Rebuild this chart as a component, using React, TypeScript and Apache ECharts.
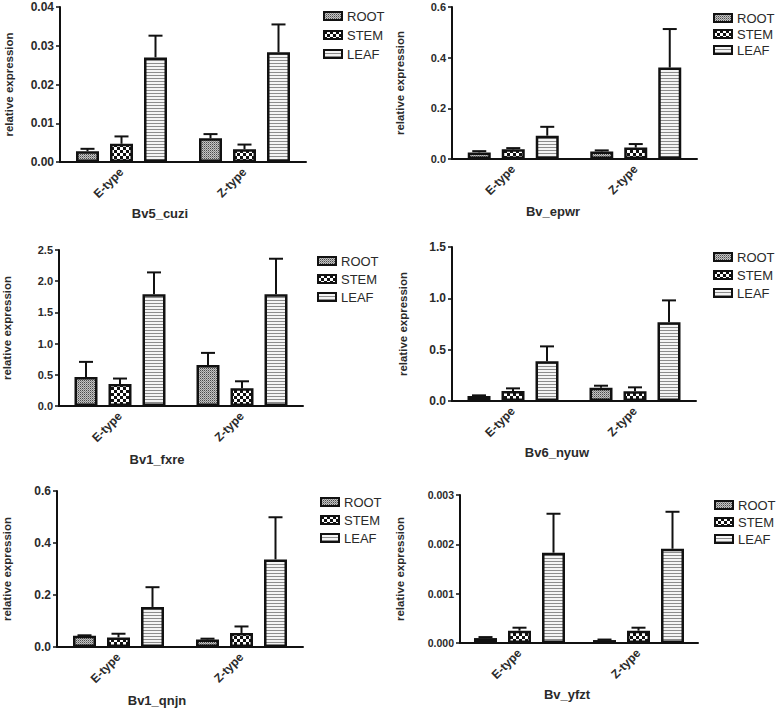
import React, { useEffect, useRef } from "react";
import * as echarts from "echarts";

const categories = ["E-type", "Z-type"];
const tissues = ["ROOT", "STEM", "LEAF"];

const panelTitles = ["Bv5_cuzi", "Bv_epwr", "Bv1_fxre", "Bv6_nyuw", "Bv1_qnjn", "Bv_yfzt"];
const yMax = [0.04, 0.6, 2.5, 1.5, 0.6, 0.003];
const yInterval = [0.01, 0.2, 0.5, 0.5, 0.2, 0.001];
const yDecimals = [2, 1, 1, 1, 1, 3];

// means[tissue][category]
const bv5CuziMean = [[0.0028, 0.0061], [0.0047, 0.0033], [0.027, 0.0283]];
const bv5CuziUpper = [[0.0034, 0.0072], [0.0066, 0.0045], [0.0326, 0.0355]];
const bvEpwrMean = [[0.026, 0.03], [0.038, 0.045], [0.092, 0.361]];
const bvEpwrUpper = [[0.031, 0.034], [0.043, 0.059], [0.127, 0.513]];
const bv1FxreMean = [[0.466, 0.658], [0.353, 0.284], [1.79, 1.79]];
const bv1FxreUpper = [[0.707, 0.851], [0.44, 0.396], [2.141, 2.36]];
const bv6NyuwMean = [[0.049, 0.13], [0.097, 0.094], [0.386, 0.766]];
const bv6NyuwUpper = [[0.055, 0.149], [0.123, 0.133], [0.532, 0.98]];
const bv1QnjnMean = [[0.043, 0.029], [0.037, 0.054], [0.154, 0.337]];
const bv1QnjnUpper = [[0.045, 0.032], [0.051, 0.079], [0.23, 0.499]];
const bvYfztMean = [[0.0001, 0.00006], [0.00025, 0.00025], [0.00183, 0.00191]];
const bvYfztUpper = [[0.00012, 0.00007], [0.00031, 0.00031], [0.00262, 0.00266]];

const panelMeans = [bv5CuziMean, bvEpwrMean, bv1FxreMean, bv6NyuwMean, bv1QnjnMean, bvYfztMean];
const panelUppers = [bv5CuziUpper, bvEpwrUpper, bv1FxreUpper, bv6NyuwUpper, bv1QnjnUpper, bvYfztUpper];

// layout (styles)
const grids = [
  { left: 60, top: 7, right: 306, bottom: 162 },
  { left: 452, top: 7, right: 697, bottom: 159 },
  { left: 59, top: 250, right: 303, bottom: 406 },
  { left: 452, top: 247, right: 696, bottom: 401 },
  { left: 57, top: 491, right: 303, bottom: 647 },
  { left: 460, top: 495, right: 698, bottom: 643 },
];
const nameGaps = [45, 46, 46, 43, 44, 54];
const yLabelSizes = [12, 11, 11, 12, 12, 10.5];
const titlePos = [
  [160, 213],
  [553, 211],
  [157, 459],
  [557, 452],
  [157, 700],
  [567, 694],
];
const legendPos = [
  { left: 323, top: 9, gap: 5 },
  { left: 713, top: 11, gap: 2 },
  { left: 317, top: 254, gap: 4 },
  { left: 713, top: 250, gap: 4 },
  { left: 320, top: 495, gap: 4 },
  { left: 714, top: 498, gap: 3 },
];

const FONT = 'Arial, "Liberation Sans", Helvetica, sans-serif';
const TEXT = "#2a2a2a";
const BAR_W = 23;
const BAR_GAP_PX = 11;

function makePattern(w: number, h: number, draw: (ctx: CanvasRenderingContext2D) => void) {
  const c = document.createElement("canvas");
  c.width = w;
  c.height = h;
  const ctx = c.getContext("2d")!;
  draw(ctx);
  return { image: c, repeat: "repeat", imageWidth: w, imageHeight: h } as any;
}

export default function App() {
  const ref = useRef<HTMLDivElement>(null);
  useEffect(() => {
    if (!ref.current) return;
    const chart = echarts.init(ref.current, undefined, { renderer: "svg" });

    const rootPat = makePattern(2, 2, (ctx) => {
      ctx.fillStyle = "#c4c4c4";
      ctx.fillRect(0, 0, 2, 2);
      ctx.fillStyle = "#4a4a4a";
      ctx.fillRect(0, 0, 1, 1);
      ctx.fillStyle = "#8a8a8a";
      ctx.fillRect(1, 1, 1, 1);
    });
    const stemPat = makePattern(6, 6, (ctx) => {
      ctx.fillStyle = "#ffffff";
      ctx.fillRect(0, 0, 6, 6);
      ctx.fillStyle = "#111111";
      ctx.fillRect(0, 0, 3, 3);
      ctx.fillRect(3, 3, 3, 3);
    });
    const leafPat = makePattern(3, 3, (ctx) => {
      ctx.fillStyle = "#f4f4f4";
      ctx.fillRect(0, 0, 3, 3);
      ctx.fillStyle = "#8c8c8c";
      ctx.fillRect(0, 0, 3, 1);
    });
    const patterns = [rootPat, stemPat, leafPat];

    const gridOpts: any[] = [];
    const xAxes: any[] = [];
    const yAxes: any[] = [];
    const series: any[] = [];
    const legends: any[] = [];
    const graphics: any[] = [];

    panelTitles.forEach((title, p) => {
      const g = grids[p];
      gridOpts.push({
        left: g.left,
        top: g.top,
        width: g.right - g.left,
        height: g.bottom - g.top,
        containLabel: false,
      });
      xAxes.push({
        type: "category",
        gridIndex: p,
        data: categories,
        axisLine: { lineStyle: { color: "#111", width: 2 } },
        axisTick: { alignWithLabel: true, length: 5, lineStyle: { color: "#111", width: 2 } },
        axisLabel: {
          rotate: 45,
          margin: 8,
          color: TEXT,
          fontFamily: FONT,
          fontWeight: "bold",
          fontSize: 12,
        },
      });
      const dec = yDecimals[p];
      yAxes.push({
        type: "value",
        gridIndex: p,
        min: 0,
        max: yMax[p],
        interval: yInterval[p],
        name: "relative expression",
        nameLocation: "middle",
        nameGap: nameGaps[p],
        nameTextStyle: { color: TEXT, fontFamily: FONT, fontWeight: "bold", fontSize: 11.5 },
        axisLine: { show: true, lineStyle: { color: "#111", width: 2 } },
        axisTick: { show: true, length: 4, lineStyle: { color: "#111", width: 1.5 } },
        splitLine: { show: false },
        axisLabel: {
          margin: 6,
          color: TEXT,
          fontFamily: FONT,
          fontWeight: "bold",
          fontSize: yLabelSizes[p],
          formatter: (v: number) => v.toFixed(dec),
        },
      });
      tissues.forEach((t, k) => {
        series.push({
          type: "bar",
          name: t,
          xAxisIndex: p,
          yAxisIndex: p,
          data: panelMeans[p][k],
          barWidth: BAR_W,
          barGap: (BAR_GAP_PX / BAR_W) * 100 + "%",
          itemStyle: { color: patterns[k], borderColor: "#111", borderWidth: 2.5 },
          emphasis: { disabled: true },
          z: 2,
        });
      });
      const errData: number[][] = [];
      tissues.forEach((t, k) => {
        categories.forEach((c, ci) => {
          errData.push([ci, k, panelMeans[p][k][ci], panelUppers[p][k][ci]]);
        });
      });
      series.push({
        type: "custom",
        name: "err" + p,
        xAxisIndex: p,
        yAxisIndex: p,
        data: errData,
        encode: { x: 0, y: [2, 3] },
        z: 3,
        silent: true,
        renderItem: (params: any, api: any) => {
          const ci = api.value(0);
          const k = api.value(1);
          const base = api.coord([ci, api.value(2)]);
          const top = api.coord([ci, api.value(3)]);
          const x = base[0] + (k - 1) * (BAR_W + BAR_GAP_PX);
          return {
            type: "group",
            children: [
              {
                type: "line",
                shape: { x1: x, y1: base[1], x2: x, y2: top[1] },
                style: { stroke: "#111", lineWidth: 2 },
              },
              {
                type: "line",
                shape: { x1: x - 7, y1: top[1], x2: x + 7, y2: top[1] },
                style: { stroke: "#111", lineWidth: 2 },
              },
            ],
          };
        },
      });
      const lp = legendPos[p];
      legends.push({
        orient: "vertical",
        left: lp.left,
        top: lp.top,
        itemGap: lp.gap,
        itemWidth: 18,
        itemHeight: 8,
        padding: 0,
        selectedMode: false,
        icon: "rect",
        textStyle: { color: TEXT, fontFamily: FONT, fontSize: 13, lineHeight: 14 },
        data: tissues.map((t, k) => ({
          name: t,
          itemStyle: { color: patterns[k], borderColor: "#111", borderWidth: 2 },
        })),
      });
      graphics.push({
        type: "text",
        x: titlePos[p][0],
        y: titlePos[p][1],
        style: {
          text: title,
          fill: TEXT,
          font: `bold 13px ${FONT}`,
          textAlign: "center",
          textVerticalAlign: "middle",
        },
      });
    });

    chart.setOption({
      animation: false,
      backgroundColor: "#ffffff",
      grid: gridOpts,
      xAxis: xAxes,
      yAxis: yAxes,
      legend: legends,
      series,
      graphic: graphics,
    });
    return () => chart.dispose();
  }, []);
  return (
    <div
      ref={ref}
      style={{ position: "absolute", left: 0, top: 0, width: 778, height: 708 }}
    />
  );
}
